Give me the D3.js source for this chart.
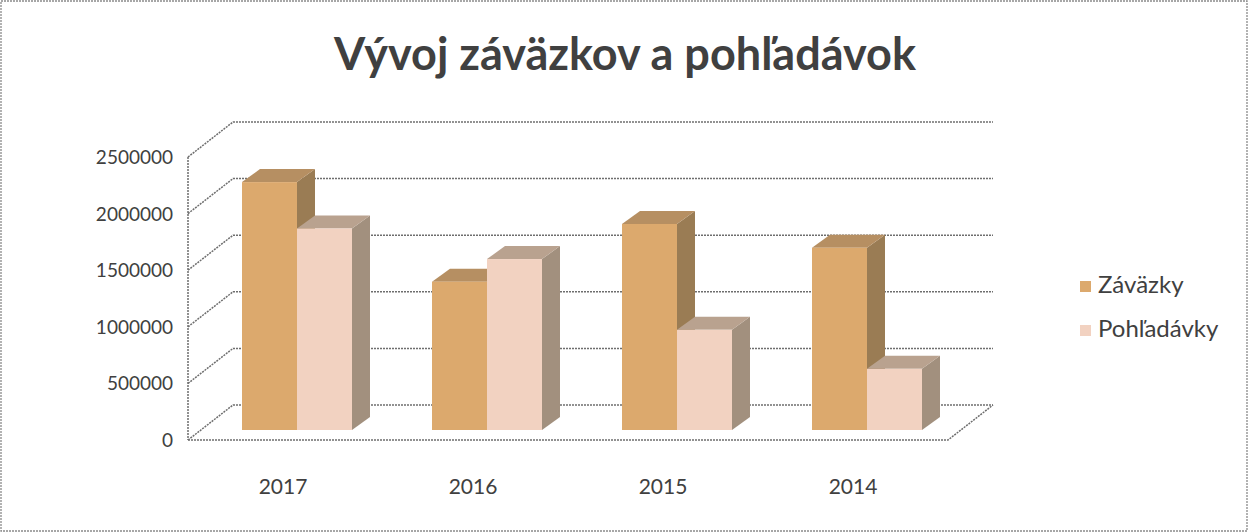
<!DOCTYPE html>
<html>
<head>
<meta charset="utf-8">
<script src="https://cdn.jsdelivr.net/npm/d3@7"></script>
<style>
  body { margin: 0; background: #fff; }
  svg { display: block; font-family: Lato, "Open Sans", sans-serif; }
</style>
</head>
<body>
<svg id="chart" width="1248" height="532"></svg>
<script>
var years = ["2017", "2016", "2015", "2014"];
var zavazky = [2190000, 1310000, 1820000, 1610000];
var pohladavky = [1780000, 1510000, 885000, 540000];
var seriesNames = ["Záväzky", "Pohľadávky"];
var yTicks = [0, 500000, 1000000, 1500000, 2000000, 2500000];

var svg = d3.select("#chart");
var W = 1248, H = 532;

// plot frame (front plane)
var plotL = 188, plotR = 948, floorY = 440, plotT = 157;
var depth = [45, -35];      // wall depth offset
var barOff = [14, -10];     // bar front face offset into depth
var barDepth = [18, -13];   // bar thickness
var barW = 55;

var colors = [
  { front: "#dca96d", top: "#b68f62", side: "#9a7c54" },
  { front: "#f2d2c1", top: "#b9a28f", side: "#a2907e" }
];

var grid = "#6e6e6e";

svg.append("rect").attr("width", W).attr("height", H).attr("fill", "#fff");
svg.append("rect")
  .attr("x", 1).attr("y", 1).attr("width", W - 2).attr("height", H - 2)
  .attr("fill", "none").attr("stroke", "#8a8a8a").attr("stroke-width", 1.3)
  .attr("stroke-dasharray", "2,1");

var y = d3.scaleLinear().domain([0, 2500000]).range([floorY, plotT]);
var x = d3.scaleBand().domain(years).range([plotL, plotR]);

// title
svg.append("text")
  .attr("x", 625).attr("y", 70)
  .attr("text-anchor", "middle")
  .attr("font-size", 45).attr("font-weight", "bold")
  .attr("fill", "#404040")
  .text("Vývoj záväzkov a pohľadávok");

var g = svg.append("g");

// gridlines on wall + back
yTicks.forEach(function(t) {
  var yy = y(t);
  g.append("path")
    .attr("d", "M" + plotL + "," + yy +
      "L" + (plotL + depth[0]) + "," + (yy + depth[1]) +
      "L" + (plotR + depth[0]) + "," + (yy + depth[1]))
    .attr("fill", "none").attr("stroke", grid).attr("stroke-width", 1.5)
    .attr("stroke-dasharray", "2,1");
});

// left wall edge
g.append("line")
  .attr("x1", plotL).attr("y1", y(2500000)).attr("x2", plotL).attr("y2", floorY)
  .attr("stroke", grid).attr("stroke-width", 1.5).attr("stroke-dasharray", "2,1");

// floor
g.append("path")
  .attr("d", "M" + plotL + "," + floorY + "L" + plotR + "," + floorY +
    "L" + (plotR + depth[0]) + "," + (floorY + depth[1]))
  .attr("fill", "none").attr("stroke", grid).attr("stroke-width", 1.5)
  .attr("stroke-dasharray", "2,1");

// y labels
g.selectAll(".ylab").data(yTicks).enter().append("text")
  .attr("x", 173).attr("y", function(d) { return y(d) + 7; })
  .attr("text-anchor", "end")
  .attr("font-size", 19).attr("fill", "#404040")
  .text(function(d) { return d; });

// x labels
g.selectAll(".xlab").data(years).enter().append("text")
  .attr("x", function(d) { return x(d) + x.bandwidth() / 2; })
  .attr("y", 494)
  .attr("text-anchor", "middle")
  .attr("font-size", 21).attr("fill", "#404040")
  .text(function(d) { return d; });

// bars
var series = [zavazky, pohladavky];
var pad = (x.bandwidth() - 2 * barW) / 2;

var box = function(x0, v, c) {
  var y0 = floorY + barOff[1];
  var y1 = y(v) + barOff[1];
  var x1 = x0 + barW;
  var dx = barDepth[0], dy = barDepth[1];
  var bg = g.append("g");
  bg.append("path")
    .attr("d", "M" + x1 + "," + y0 + "L" + x1 + "," + y1 + "L" + (x1 + dx) + "," + (y1 + dy) +
      "L" + (x1 + dx) + "," + (y0 + dy) + "Z")
    .attr("fill", c.side);
  bg.append("path")
    .attr("d", "M" + x0 + "," + y1 + "L" + (x0 + dx) + "," + (y1 + dy) + "L" + (x1 + dx) + "," + (y1 + dy) +
      "L" + x1 + "," + y1 + "Z")
    .attr("fill", c.top);
  bg.append("rect")
    .attr("x", x0).attr("y", y1).attr("width", barW).attr("height", y0 - y1)
    .attr("fill", c.front);
};

years.forEach(function(yr, i) {
  series.forEach(function(s, k) {
    box(x(yr) + pad + k * barW + barOff[0], s[i], colors[k]);
  });
});

// legend
var leg = svg.append("g").attr("transform", "translate(1080,276)");
seriesNames.forEach(function(name, k) {
  var row = leg.append("g").attr("transform", "translate(0," + (k * 44) + ")");
  row.append("rect").attr("x", 0).attr("y", 5).attr("width", 11).attr("height", 11)
    .attr("fill", colors[k].front);
  row.append("text").attr("x", 18).attr("y", 17)
    .attr("font-size", 24).attr("fill", "#404040").text(name);
});
</script>
</body>
</html>
